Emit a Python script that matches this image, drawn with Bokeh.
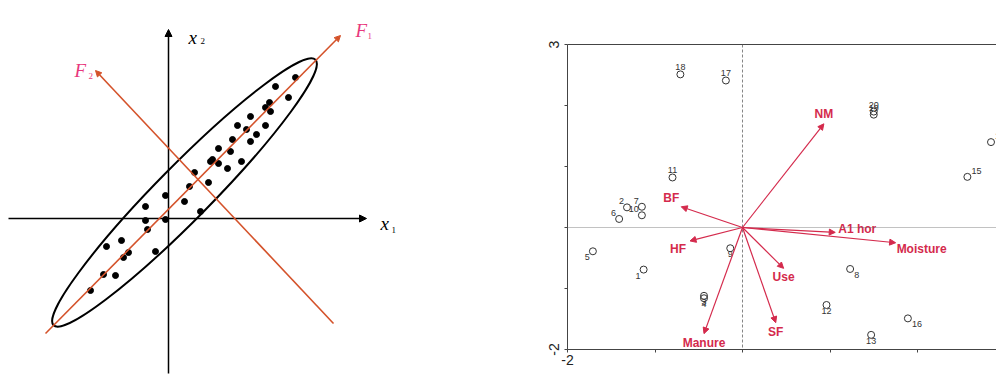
import math
from bokeh.plotting import figure
from bokeh.models import (ColumnDataSource, Range1d, Arrow, NormalHead, Span,
                          LinearAxis, FixedTicker, Label)
from bokeh.layouts import row
from bokeh.core.properties import value
from bokeh.embed import file_html
from bokeh.resources import INLINE

# ---------------- left panel: schematic PCA (units: px-like) ----------------
obs_x1 = [127, 107, 120, 101, 97, 102, 82, 69, 78, 97, 64, 88, 82, 50, 62, 44,
          42, 50, 73, 59, 26, 40, 21, 16, -3, -23, 32, -23, -3, -21, -62, -47,
          -40, -45, -13, -65, -53, -78]
obs_x2 = [141, 132, 121, 116, 111, 107, 102, 93, 89, 93, 79, 84, 77, 70, 67, 59,
          57, 55, 57, 50, 46, 36, 32, 17, 23, 12, 7, -2, -1, -11, -28, -22,
          -34, -39, -33, -56, -57, -72]
x1_axis = [-160, 198]
x2_axis = [-155, 189]
f1_start = [-123, -115]
f1_end = [172, 183]
f2_start = [165, -105]
f2_end = [-73, 148]
ellipse_center = [16, 26]
ellipse_major = 373
ellipse_minor = 54
ellipse_angle_deg = 45.4

# ---------------- right panel: biplot ----------------
site_ids = [str(i) for i in range(1, 21)]
site_x = [-1.13, -1.32, -0.44, -0.44, -1.71, -1.41, -1.15, 1.23, -0.14, -1.15,
          -0.80, 0.96, 1.47, 2.84, 2.57, 1.89, -0.19, -0.71, 1.50, 1.50]
site_y = [-0.69, 0.33, -1.12, -1.16, -0.39, 0.14, 0.34, -0.68, -0.34, 0.20,
          0.82, -1.27, -1.76, 1.40, 0.83, -1.49, 2.41, 2.51, 1.85, 1.90]
site_pos = ["bl", "tl", "b", "b", "bl", "tl", "tl", "br", "b", "tl",
            "t", "b", "b", "tr", "tr", "br", "t", "t", "t", "t"]
var_names = ["NM", "BF", "HF", "Manure", "A1 hor", "Moisture", "Use", "SF"]
var_x = [0.93, -0.70, -0.60, -0.44, 1.06, 1.75, 0.47, 0.38]
var_y = [1.70, 0.34, -0.22, -1.74, -0.08, -0.25, -0.67, -1.56]
var_pos = ["t", "tl", "bl", "b", "ru", "rd", "b", "b"]
x_ticks = [-2, -1, 0, 1, 2, 3]
y_ticks = [-2, -1, 0, 1, 2, 3]
x_tick_labels = {-2: "-2", 3: "3"}
y_tick_labels = {-2: "-2", 3: "3"}

# ---------------- styles ----------------
ORANGE = "#d4522a"
PINK = "#e8387c"
RED = "#d42a4c"
SERIF = "Liberation Serif"
SANS = "Liberation Sans"

SITE_ANCH = {
    "t": (0, -4, "center", "bottom"),
    "b": (0, 3, "center", "top"),
    "tl": (-3, -3, "right", "bottom"),
    "bl": (-3, 3, "right", "top"),
    "tr": (4, -3, "left", "bottom"),
    "br": (4, 3, "left", "top"),
}
VAR_ANCH = {
    "t": (0, -3, "center", "bottom"),
    "b": (0, 2, "center", "top"),
    "tl": (-2, -2, "right", "bottom"),
    "bl": (-4, 1, "right", "top"),
    "ru": (3, -3, "left", "middle"),
    "rd": (1, 6, "left", "middle"),
}

W1, W2, H = 410, 586, 374
FRAME_L, FRAME_T, FRAME_B = 567, 44, 349
ORIGIN_PX, ORIGIN_PY = 168, 218   # left-panel origin on the page

# ================= left figure =================
p1 = figure(width=W1, height=H,
            x_range=Range1d(-ORIGIN_PX, W1 - ORIGIN_PX),
            y_range=Range1d(ORIGIN_PY - H, ORIGIN_PY),
            x_axis_type=None, y_axis_type=None, title=None, min_border=0,
            output_backend="svg", toolbar_location=None)
p1.frame_align = False
p1.grid.visible = False
p1.outline_line_color = None

# coordinate axes
p1.add_layout(Arrow(end=NormalHead(size=7, fill_color="black", line_color="black"),
                    x_start=x1_axis[0], y_start=0, x_end=x1_axis[1], y_end=0,
                    line_color="black", line_width=1.5))
p1.add_layout(Arrow(end=NormalHead(size=7, fill_color="black", line_color="black"),
                    x_start=0, y_start=x2_axis[0], x_end=0, y_end=x2_axis[1],
                    line_color="black", line_width=1.5))
# principal axes
for s, e in ((f1_start, f1_end), (f2_start, f2_end)):
    p1.add_layout(Arrow(end=NormalHead(size=6, fill_color=ORANGE, line_color=ORANGE),
                        x_start=s[0], y_start=s[1], x_end=e[0], y_end=e[1],
                        line_color=ORANGE, line_width=1.6))

p1.ellipse(x=[ellipse_center[0]], y=[ellipse_center[1]], width=[ellipse_major],
           height=[ellipse_minor], angle=[math.radians(ellipse_angle_deg)],
           fill_color=None, line_color="black", line_width=2)
p1.scatter(obs_x1, obs_x2, size=6, color="black")


def sym(p, x, y, main, sub, dx, dy, sdx, sdy, color):
    # dx/dy: screen offsets, dy positive = downward
    p.add_layout(Label(x=x, y=y, text=main, x_offset=dx, y_offset=-dy,
                       text_font=SERIF, text_font_style="italic",
                       text_font_size="19px", text_color=color,
                       text_align="left", text_baseline="alphabetic"))
    p.add_layout(Label(x=x, y=y, text=sub, x_offset=sdx, y_offset=-sdy,
                       text_font=SERIF, text_font_size="9px", text_color=color,
                       text_align="left", text_baseline="alphabetic"))


sym(p1, x1_axis[1], 0, "x", "1", 14, 5, 25, 11, "black")
sym(p1, 0, x2_axis[1], "x", "2", 20, 8, 32, 11, "black")
sym(p1, f1_end[0], f1_end[1], "F", "1", 15, -5, 27, 0, PINK)
sym(p1, f2_end[0], f2_end[1], "F", "2", -21, 0, -7, 5, PINK)

# ================= right figure =================
p2 = figure(width=W2, height=H,
            x_range=Range1d(-2, -2 + (W1 + W2 - FRAME_L) / 87.5),
            y_range=Range1d(-2, 3), min_border_left=FRAME_L - W1, min_border_right=0,
            min_border_top=FRAME_T, min_border_bottom=H - FRAME_B, title=None,
            output_backend="svg", toolbar_location=None)
p2.frame_align = False
p2.grid.visible = False
p2.outline_line_color = None

for ax, ticks, labs in ((p2.xaxis[0], x_ticks, x_tick_labels),
                        (p2.yaxis[0], y_ticks, y_tick_labels)):
    ax.ticker = FixedTicker(ticks=ticks)
    ax.major_label_overrides = {t: labs.get(t, "") for t in ticks}
    ax.minor_tick_line_color = None
    ax.major_tick_in = 0
    ax.major_tick_out = 3
    ax.axis_line_color = "#444"
    ax.major_tick_line_color = "#444"
    ax.major_label_text_font = SANS
    ax.major_label_text_font_size = "14px"
    ax.major_label_text_color = "#222"
p2.xaxis[0].major_label_standoff = 2
p2.yaxis[0].major_label_standoff = 6
p2.yaxis[0].major_label_orientation = "vertical"

top = LinearAxis(ticker=FixedTicker(ticks=[]), major_tick_line_color=None,
                 minor_tick_line_color=None, major_label_text_font_size="0px",
                 axis_line_color="#444")
p2.add_layout(top, "above")

p2.add_layout(Span(location=0, dimension="height", line_color="#666",
                   line_width=0.8, line_dash="3 2"))
p2.add_layout(Span(location=0, dimension="width", line_color="#666",
                   line_width=0.8, line_dash="1 1"))

# variable arrows
asrc = ColumnDataSource(dict(x0=[0] * len(var_x), y0=[0] * len(var_y),
                             x1=var_x, y1=var_y))
p2.add_layout(Arrow(end=NormalHead(size=6, fill_color=RED, line_color=RED),
                    source=asrc, x_start="x0", y_start="y0", x_end="x1", y_end="y1",
                    line_color=RED, line_width=1.2))

vsrc = ColumnDataSource(dict(
    x=var_x, y=var_y, t=var_names,
    dx=[VAR_ANCH[a][0] for a in var_pos], dy=[VAR_ANCH[a][1] for a in var_pos],
    al=[VAR_ANCH[a][2] for a in var_pos], bl=[VAR_ANCH[a][3] for a in var_pos]))
p2.text(x="x", y="y", text="t", x_offset="dx", y_offset="dy", text_align="al",
        text_baseline="bl", source=vsrc, text_font=value(SANS),
        text_font_style="bold", text_font_size="12px", text_color=RED)

# sites
p2.scatter(site_x, site_y, marker="circle", size=7, fill_color=None,
           line_color="#333", line_width=1)
ssrc = ColumnDataSource(dict(
    x=site_x, y=site_y, t=site_ids,
    dx=[SITE_ANCH[a][0] for a in site_pos], dy=[SITE_ANCH[a][1] for a in site_pos],
    al=[SITE_ANCH[a][2] for a in site_pos], bl=[SITE_ANCH[a][3] for a in site_pos]))
p2.text(x="x", y="y", text="t", x_offset="dx", y_offset="dy", text_align="al",
        text_baseline="bl", source=ssrc, text_font=value(SANS),
        text_font_size="9px", text_color="#333")

layout = row(p1, p2)
open("out.html", "w").write(file_html(layout, INLINE))
